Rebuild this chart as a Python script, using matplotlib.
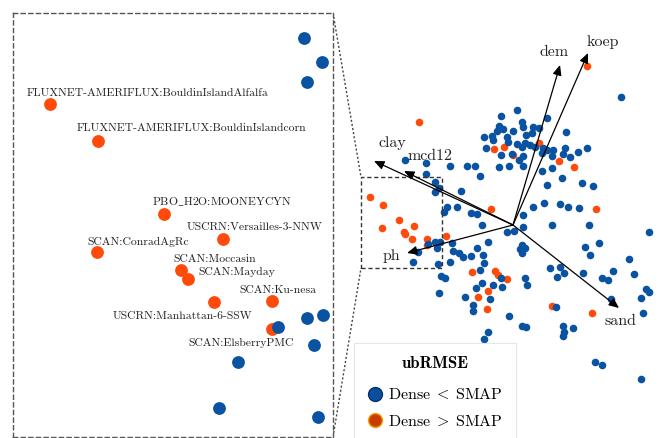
import matplotlib
matplotlib.use("Agg")
import matplotlib.pyplot as plt
from matplotlib.lines import Line2D
from matplotlib.font_manager import FontProperties

plt.rcParams['font.family'] = ['cmr10']
plt.rcParams['mathtext.fontset'] = 'cm'
plt.rcParams['axes.unicode_minus'] = False

# ---------------- data (PCA scores) ----------------
blue_pc1 = [1.08, 0.04, -0.12, 0.34, 0.09, -0.14, 0.10, 0.20, 0.26, -0.10, -0.16, 0.00, 0.53,
            -0.29, -0.21, -0.06, 0.13, 0.19, -0.20, -0.05, 0.04, 0.12, 0.17, -0.27, 0.09, 0.22,
            0.30, 0.34, 0.40, 0.52, 0.74, -0.12, -0.01, 0.10, 0.29, 0.39, 0.50, 0.57, 0.65, 0.06,
            0.10, -0.04, -0.14, 0.29, 0.39, 0.49, 0.69, 0.80, 0.34,
            -1.08, -0.87, -0.63, -0.46, -0.38, -0.33, -0.87, -0.52, -0.66, -0.69, -0.56, -0.42,
            -0.36, 0.10, 0.20, 0.31, 0.47, 0.55, 0.66,
            -0.31, -0.06, 0.01, 0.10, 0.39, 0.76, 1.36, 0.09, 0.07, 0.12, 0.09, 0.72, 0.86, 0.77,
            -0.25, -0.61, -0.60, -0.54, -0.50, -0.42, -0.36, -0.30, -0.63, -0.29, -0.33, -0.72,
            -0.68, -0.74, -0.48, -0.37, -0.31, -0.20, -0.23, -0.11, -0.12, 0.12, 0.14, 0.37, 0.47,
            0.51, 0.44, 0.70, 0.89, 0.95, 1.00, 1.16, 1.21, 1.33, 1.36, 1.28, 0.98, 1.30, -0.40,
            -0.40, -0.04, 0.09, 0.13, 0.50, 0.60, 0.50, 0.51, 0.43, -0.25, -0.29, 0.82, 0.89, 1.28,
            -0.784, -0.738, -0.776, -0.776, -0.735, -0.849, -0.758, -0.951, -0.999, -0.748]
blue_pc2 = [1.28, 1.15, 1.09, 1.07, 1.03, 0.99, 0.98, 0.98, 0.97, 0.96, 0.94, 0.94, 0.93,
            0.88, 0.89, 0.88, 0.90, 0.92, 0.85, 0.83, 0.81, 0.82, 0.80, 0.77, 0.78, 0.78,
            0.77, 0.75, 0.75, 0.77, 0.77, 0.70, 0.71, 0.69, 0.72, 0.69, 0.71, 0.68, 0.73, 0.65,
            0.59, 0.59, 0.58, 0.54, 0.57, 0.47, 0.42, 0.39, 0.40,
            0.65, 0.62, 0.59, 0.59, 0.59, 0.49, 0.51, 0.34, 0.18, 0.13, 0.18, 0.12,
            0.11, 0.10, 0.18, 0.22, 0.21, 0.18, 0.17,
            0.00, -0.07, -0.06, -0.02, 0.00, 0.00, -0.07, -0.20, -0.24, -0.23, -0.28, -0.22, -0.18, -0.30,
            -0.17, -0.18, -0.26, -0.28, -0.32, -0.31, -0.23, -0.30, -0.37, -0.38, -0.45, -0.51,
            -0.53, -0.68, -0.72, -0.63, -0.58, -0.60, -0.74, -0.62, -0.53, -0.53, -0.60, -0.43, -0.42,
            -0.48, -0.52, -0.48, -0.53, -0.55, -0.46, -0.34, -0.49, -0.64, -0.67, -0.73, -0.74, -0.88, -0.80,
            -0.86, -0.91, -1.01, -1.02, -1.01, -1.03, -1.11, -1.07, -0.82, -1.07, -1.14, -1.37, -1.40, -1.54,
            0.426, 0.375, 0.332, -0.174, -0.168, -0.194, -0.233, -0.269, -0.368, -0.387]

orange_pc1 = [0.74, -0.94, -0.19, -0.09, 0.00, 0.26, 0.46, 0.61, 0.83, -0.22, -0.67, -0.41,
              -0.18, -0.15, -0.06, -0.25, -0.35, -0.26, 0.39, 0.79]
orange_pc2 = [1.59, 1.03, 0.76, 0.78, 0.70, 0.82, 0.64, 0.58, 0.16, 0.16, -0.11, -0.47,
              -0.46, -0.50, -0.54, -0.66, -0.72, -0.84, -0.81, -0.88]

# labelled stations (Dense > SMAP) shown in the zoom panel
station_names = ['FLUXNET-AMERIFLUX:BouldinIslandAlfalfa', 'FLUXNET-AMERIFLUX:BouldinIslandcorn',
                 'PBO$\\_$H2O:MOONEYCYN', 'USCRN:Versailles-3-NNW', 'SCAN:ConradAgRc',
                 'SCAN:Moccasin', 'SCAN:Mayday', 'USCRN:Manhattan-6-SSW', 'SCAN:Ku-nesa',
                 'SCAN:ElsberryPMC']
station_pc1 = [-1.426, -1.305, -1.138, -0.989, -1.307, -1.095, -1.077, -1.011, -0.865, -0.865]
station_pc2 = [0.285, 0.205, 0.049, -0.005, -0.033, -0.072, -0.091, -0.140, -0.138, -0.198]

# loading vectors
var_names = ['clay', 'mcd12', 'dem', 'koep', 'ph', 'sand']
load_pc1 = [-1.39, -1.09, 0.47, 0.75, -1.06, 1.06]
load_pc2 = [0.64, 0.54, 1.60, 1.72, -0.28, -0.83]

# zoom window
zoom_x = (-1.52, -0.71)
zoom_y = (-0.43, 0.48)

legend_title = 'ubRMSE'
legend_labels = [r'Dense$\;<\;$SMAP', r'Dense$\;>\;$SMAP']

# ---------------- layout / style ----------------
W, H = 668, 438
BLUE = '#0a52a2'
ORANGE = '#ff4a0a'
var_label_pos = [(-1.21, 0.82), (-0.83, 0.69), (0.41, 1.73), (0.90, 1.83), (-1.22, -0.31), (1.07, -0.96)]
label_offsets = [(-23, 11), (-21, 13), (-12, 12), (-36, 12), (-10, 10), (-8, 11), (10, 7),
                 (-101, -14), (-32, 11), (-83, -14)]

fig = plt.figure(figsize=(W / 100, H / 100), dpi=100)
ax = fig.add_axes([0, 0, 1, 1])
ax.set_xlim((0 - 513) / 100, (W - 513) / 100)
ax.set_ylim((225 - H) / 100, 225 / 100)
ax.axis('off')

all_o1 = orange_pc1 + station_pc1
all_o2 = orange_pc2 + station_pc2
ax.scatter(all_o1, all_o2, s=30, color=ORANGE, linewidths=0, zorder=2)
ax.scatter(blue_pc1, blue_pc2, s=30, color=BLUE, linewidths=0, zorder=3)

for name, lx, ly, pos in zip(var_names, load_pc1, load_pc2, var_label_pos):
    ax.annotate('', xy=(lx, ly), xytext=(0, 0),
                arrowprops=dict(arrowstyle='-|>,head_length=0.5,head_width=0.22', lw=0.9,
                                color='black', mutation_scale=12, shrinkA=0, shrinkB=0), zorder=5)
    ax.text(pos[0], pos[1], name, fontsize=11.5, ha='center', va='center', color='#222222', zorder=6)

# zoom rectangle and connectors
ax.plot([zoom_x[0], zoom_x[1], zoom_x[1], zoom_x[0], zoom_x[0]],
        [zoom_y[0], zoom_y[0], zoom_y[1], zoom_y[1], zoom_y[0]],
        ls=(0, (3, 2)), color='#333333', lw=1.0, zorder=4)
ax.plot([(333 - 513) / 100, zoom_x[0]], [(225 - 13) / 100, zoom_y[1]], ls=(0, (1.5, 1.5)),
        color='#444444', lw=1.0, zorder=4)
ax.plot([(333 - 513) / 100, zoom_x[0]], [(225 - 437) / 100, zoom_y[0]], ls=(0, (1.5, 1.5)),
        color='#444444', lw=1.0, zorder=4)

# legend
handles = [Line2D([], [], ls='none', marker='o', markersize=10, markerfacecolor='#0a4f9e',
                  markeredgecolor='#07306a', markeredgewidth=1.0),
           Line2D([], [], ls='none', marker='o', markersize=10, markerfacecolor='#c83c00',
                  markeredgecolor='#f0a000', markeredgewidth=1.0)]
leg = ax.legend(handles, legend_labels, title=legend_title,
                title_fontproperties=FontProperties(family='cmb10', size=12),
                prop=FontProperties(family='cmr10', size=11.5),
                loc='upper left', bbox_to_anchor=(354 / W, 1 - 343 / H), bbox_transform=fig.transFigure,
                frameon=True, fancybox=False, edgecolor='#e6e6e6', framealpha=1,
                borderaxespad=0, borderpad=0.8, handletextpad=0.35, handlelength=1.0,
                labelspacing=0.75)
leg.get_frame().set_linewidth(0.8)
leg._legend_box.sep = 12

# zoom panel
ins = fig.add_axes([13 / W, 1 / H, 320 / W, 424 / H])
ins.set_xlim(*zoom_x)
ins.set_ylim(*zoom_y)
ins.set_xticks([])
ins.set_yticks([])
for sp in ins.spines.values():
    sp.set_linestyle((0, (3, 2.5)))
    sp.set_color('#555555')
    sp.set_linewidth(1.0)
ins.scatter(all_o1, all_o2, s=85, color=ORANGE, linewidths=0, zorder=2)
ins.scatter(blue_pc1, blue_pc2, s=85, color=BLUE, linewidths=0, zorder=3)
for name, x, y, off in zip(station_names, station_pc1, station_pc2, label_offsets):
    ins.annotate(name, xy=(x, y), xytext=off, textcoords='offset pixels',
                 ha='left', va='center', fontsize=8.4, color='#222222', zorder=6)

fig.savefig('out.png', dpi=100)
